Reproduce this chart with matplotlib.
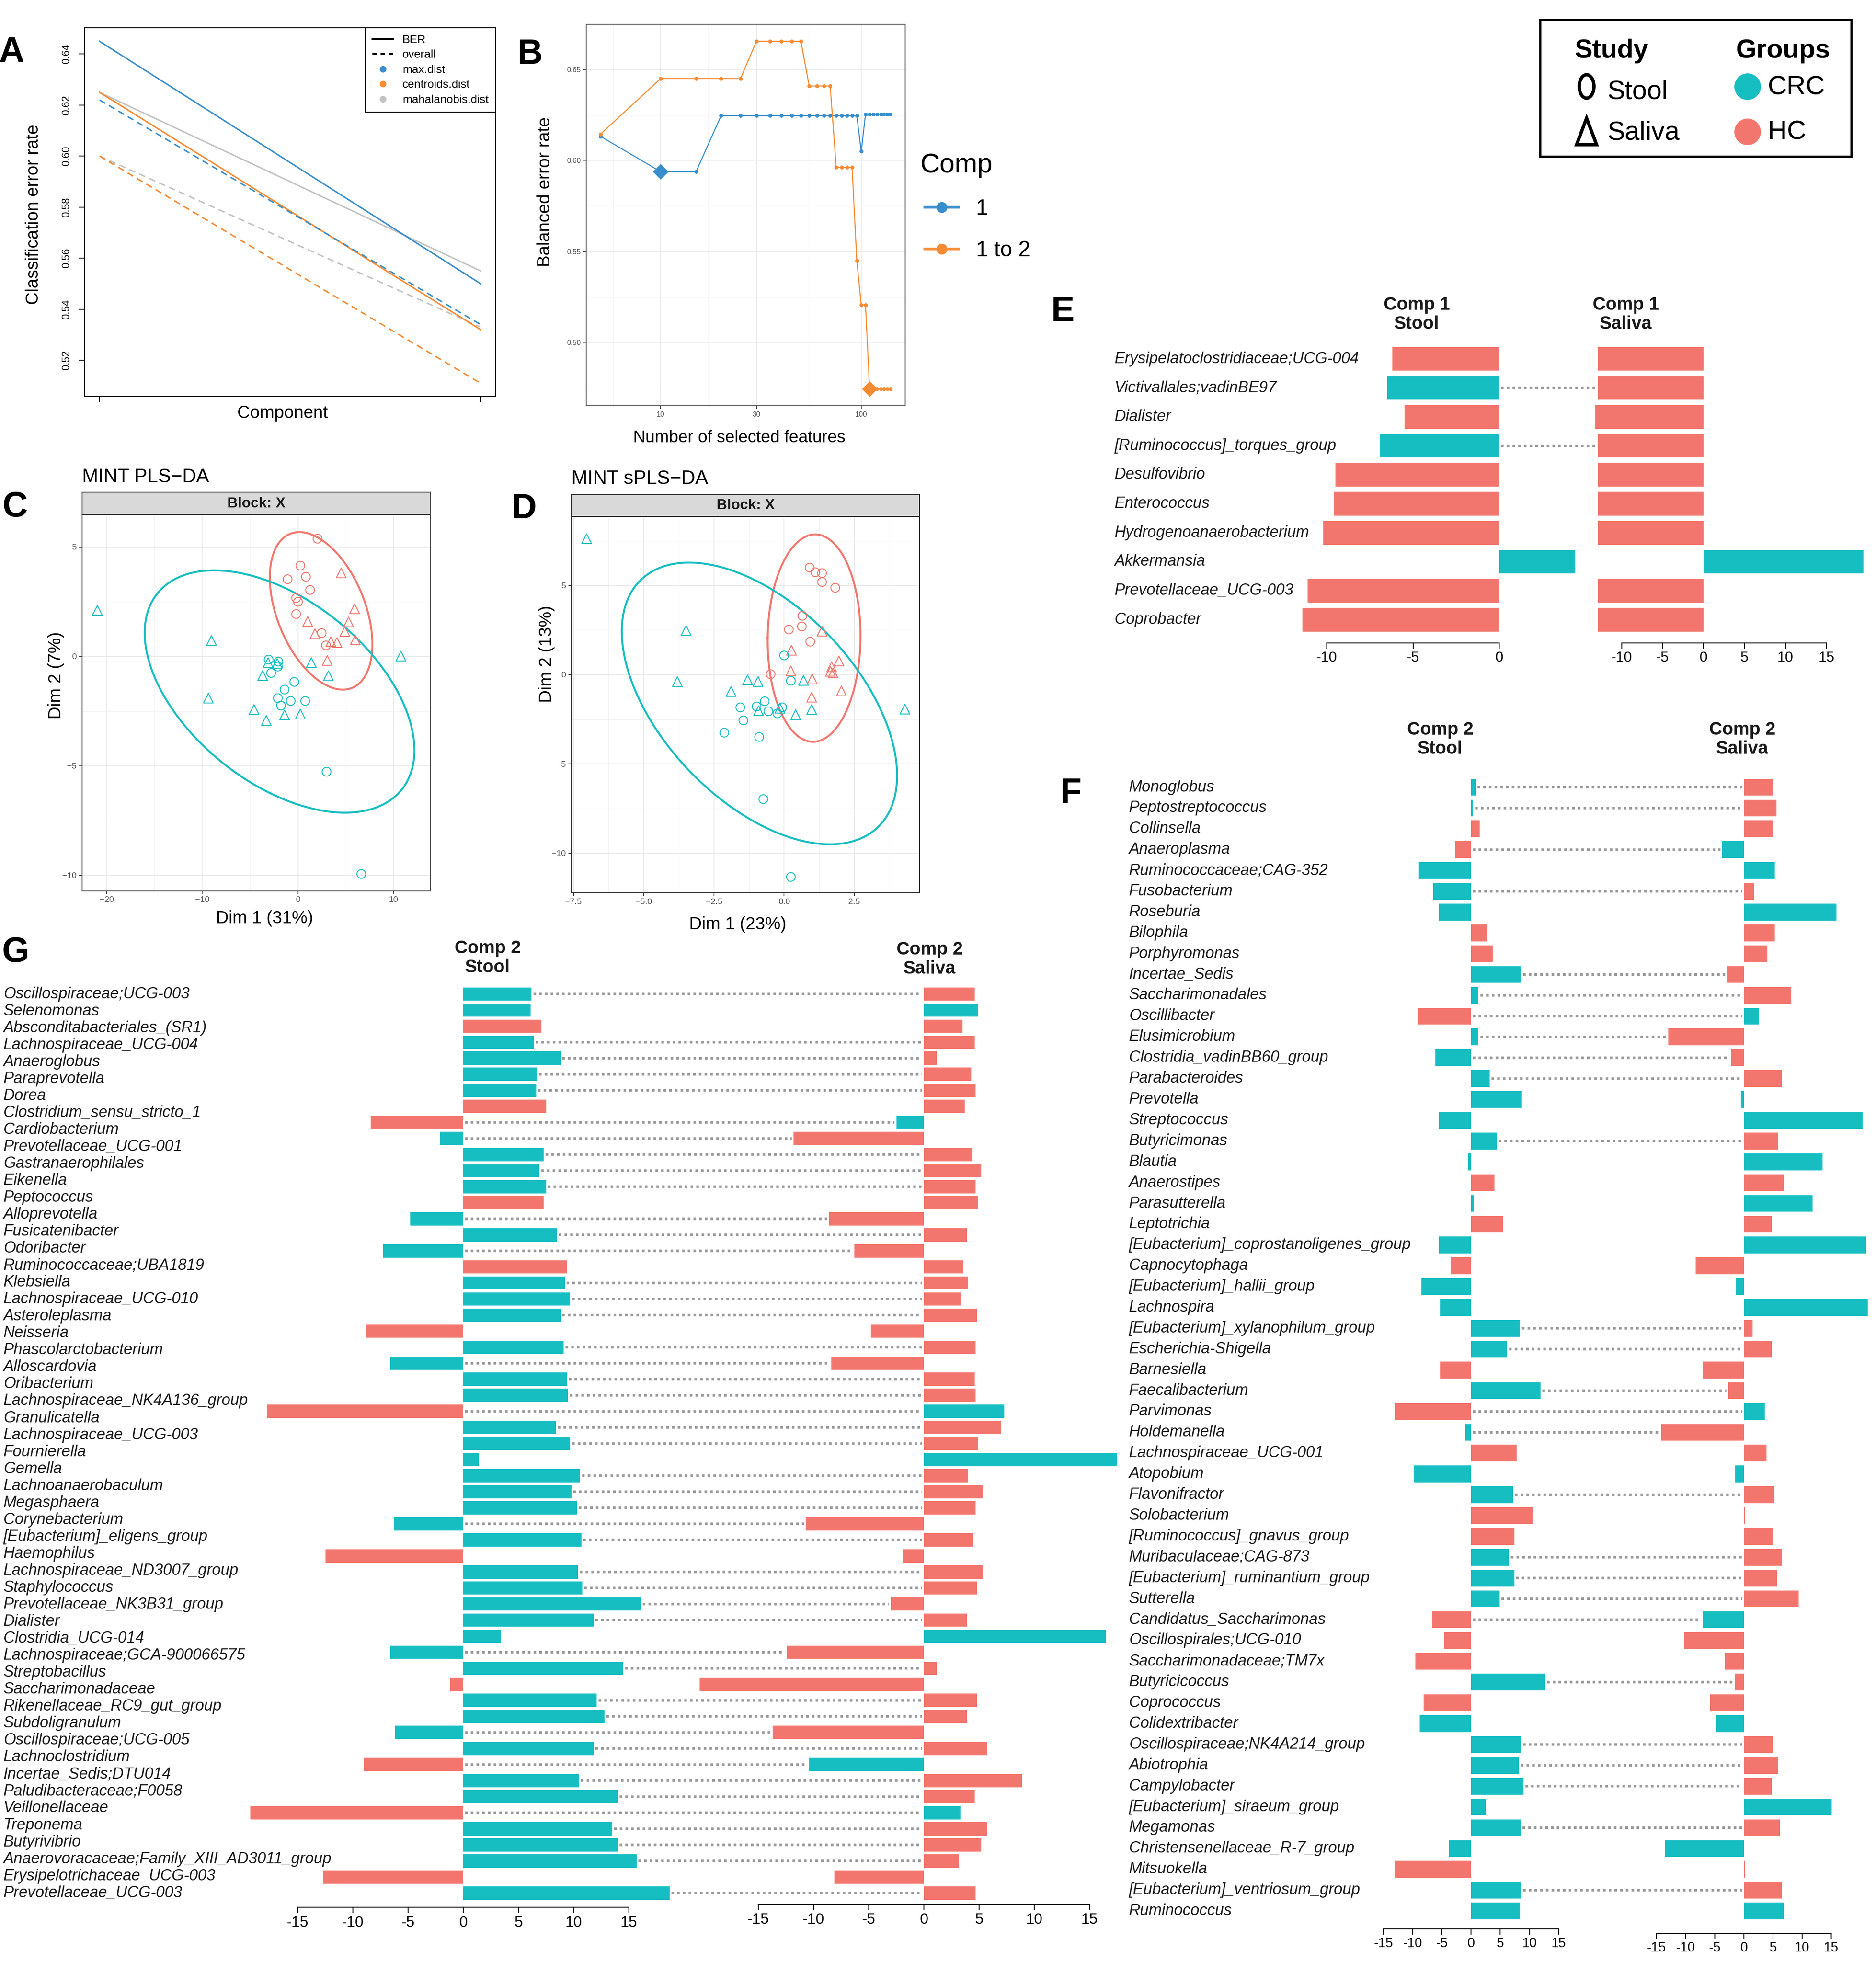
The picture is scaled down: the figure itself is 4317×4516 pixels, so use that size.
import numpy as np
import matplotlib
matplotlib.use("Agg")
import matplotlib.pyplot as plt
from matplotlib.lines import Line2D
from matplotlib.patches import ConnectionPatch, Ellipse, Polygon, Rectangle
from matplotlib.ticker import FormatStrFormatter, NullFormatter
from matplotlib.transforms import blended_transform_factory

W, H = 4317, 4516
plt.rcParams["font.family"] = ["Liberation Sans", "DejaVu Sans"]
plt.rcParams["axes.unicode_minus"] = False

CRC = "#16BEC2"
HC = "#F3766E"
MIXO = ["#388ECC", "#F68B33", "#C2C2C2"]
DOT = "#999999"

# ---------------- data ----------------
# A: classification error rate per component
a_comp = [1, 2]
a_max_ber = [0.645, 0.550]
a_max_overall = [0.622, 0.534]
a_cent_ber = [0.625, 0.532]
a_cent_overall = [0.600, 0.511]
a_maha_ber = [0.625, 0.555]
a_maha_overall = [0.600, 0.533]

# B: tuning curve
b_keepx = [5, 10, 15, 20, 25, 30, 35, 40, 45, 50, 55, 60, 65, 70,
           75, 80, 85, 90, 95, 100, 105, 110, 115, 120, 125, 130, 135, 140]
b_comp1 = [0.6133, 0.5938, 0.5938, 0.6246, 0.6246, 0.6246, 0.6246, 0.6246,
           0.6246, 0.6246, 0.6246, 0.6246, 0.6246, 0.6246, 0.6246, 0.6246,
           0.6246, 0.6246, 0.6246, 0.6050, 0.6253, 0.6253, 0.6253, 0.6253,
           0.6253, 0.6253, 0.6253, 0.6253]
b_comp12 = [0.6144, 0.6450, 0.6450, 0.6450, 0.6450, 0.6655, 0.6655, 0.6655,
            0.6655, 0.6655, 0.6409, 0.6409, 0.6409, 0.6409, 0.5962, 0.5962,
            0.5962, 0.5962, 0.5450, 0.5206, 0.5206, 0.4746, 0.4746, 0.4746,
            0.4746, 0.4746, 0.4746, 0.4746]
b_best1 = 10
b_best12 = 110

# C: MINT PLS-DA sample plot
c_hc_stool_x = [2.04, 0.25, 0.83, -1.08, 1.27, -0.19, 0.00, -0.19, 2.48, 2.93]
c_hc_stool_y = [5.37, 4.14, 3.63, 3.52, 3.03, 2.66, 2.49, 1.93, 1.06, 0.50]
c_hc_saliva_x = [4.52, 5.92, 1.02, 5.29, 4.90, 1.78, 3.44, 4.08, 5.99, 3.06]
c_hc_saliva_y = [3.81, 2.17, 1.59, 1.57, 1.13, 1.03, 0.67, 0.63, 0.75, -0.19]
c_crc_stool_x = [-3.06, -2.04, -2.10, -2.80, -0.38, -1.40, -2.10, -0.76, 0.76, -1.78, 2.99, 6.62]
c_crc_stool_y = [-0.15, -0.24, -0.47, -0.76, -1.17, -1.52, -1.91, -2.04, -2.04, -2.25, -5.27, -9.94]
c_crc_saliva_x = [-20.96, -9.04, 10.76, -3.12, -2.17, 1.40, -3.69, 3.18, -9.36, -4.59, -1.40, 0.25, -3.31]
c_crc_saliva_y = [2.10, 0.72, 0.01, -0.29, -0.33, -0.29, -0.88, -0.89, -1.91, -2.43, -2.68, -2.64, -2.93]

# D: MINT sPLS-DA sample plot
d_hc_stool_x = [0.91, 1.11, 1.35, 1.35, 1.82, 0.65, 0.63, 0.17, 0.93, -0.48]
d_hc_stool_y = [6.00, 5.74, 5.69, 5.19, 4.87, 3.30, 2.70, 2.53, 1.85, 0.03]
d_hc_saliva_x = [1.35, 0.26, 1.95, 0.24, 1.00, 1.69, 1.65, 1.74, 2.04, 0.98]
d_hc_saliva_y = [2.44, 1.37, 0.77, 0.21, -0.24, 0.44, 0.19, 0.10, -0.91, -1.26]
d_crc_stool_x = [0.00, 0.24, -0.69, -1.56, -0.98, -0.56, -0.07, -0.24, -1.45, -2.13, -0.89, -0.74, 0.24]
d_crc_stool_y = [1.08, -0.34, -1.49, -1.83, -1.78, -2.05, -1.83, -2.17, -2.56, -3.25, -3.49, -6.97, -11.33]
d_crc_saliva_x = [-7.03, -3.49, -3.80, -1.30, -0.93, -1.89, 0.69, -0.91, -0.15, 0.41, 0.98, 4.30]
d_crc_saliva_y = [7.62, 2.48, -0.39, -0.29, -0.38, -0.94, -0.32, -2.02, -1.88, -2.24, -1.95, -1.93]

# E: component 1 loadings
e_taxa = ["Erysipelatoclostridiaceae;UCG-004", "Victivallales;vadinBE97", "Dialister",
          "[Ruminococcus]_torques_group", "Desulfovibrio", "Enterococcus",
          "Hydrogenoanaerobacterium", "Akkermansia", "Prevotellaceae_UCG-003", "Coprobacter"]
e_stool = [-6.2, -6.5, -5.5, -6.9, -9.5, -9.6, -10.2, 4.4, -11.1, -11.4]
e_stool_grp = ["HC", "CRC", "HC", "CRC", "HC", "HC", "HC", "CRC", "HC", "HC"]
e_saliva = [-12.9, -12.9, -13.2, -12.9, -12.9, -12.9, -12.9, 19.5, -12.9, -12.9]
e_saliva_grp = ["HC", "HC", "HC", "HC", "HC", "HC", "HC", "CRC", "HC", "HC"]

# F: component 2 loadings
f_taxa = ["Monoglobus", "Peptostreptococcus", "Collinsella", "Anaeroplasma",
          "Ruminococcaceae;CAG-352", "Fusobacterium", "Roseburia", "Bilophila",
          "Porphyromonas", "Incertae_Sedis", "Saccharimonadales", "Oscillibacter",
          "Elusimicrobium", "Clostridia_vadinBB60_group", "Parabacteroides", "Prevotella",
          "Streptococcus", "Butyricimonas", "Blautia", "Anaerostipes", "Parasutterella",
          "Leptotrichia", "[Eubacterium]_coprostanoligenes_group", "Capnocytophaga",
          "[Eubacterium]_hallii_group", "Lachnospira", "[Eubacterium]_xylanophilum_group",
          "Escherichia-Shigella", "Barnesiella", "Faecalibacterium", "Parvimonas",
          "Holdemanella", "Lachnospiraceae_UCG-001", "Atopobium", "Flavonifractor",
          "Solobacterium", "[Ruminococcus]_gnavus_group", "Muribaculaceae;CAG-873",
          "[Eubacterium]_ruminantium_group", "Sutterella", "Candidatus_Saccharimonas",
          "Oscillospirales;UCG-010", "Saccharimonadaceae;TM7x", "Butyricicoccus",
          "Coprococcus", "Colidextribacter", "Oscillospiraceae;NK4A214_group",
          "Abiotrophia", "Campylobacter", "[Eubacterium]_siraeum_group", "Megamonas",
          "Christensenellaceae_R-7_group", "Mitsuokella", "[Eubacterium]_ventriosum_group",
          "Ruminococcus"]
f_stool = [0.8, 0.4, 1.5, -2.7, -8.9, -6.5, -5.5, 2.8, 3.7, 8.6,
           1.3, -9.0, 1.3, -6.1, 3.2, 8.7, -5.5, 4.4, -0.5, 4.0,
           0.5, 5.5, -5.5, -3.5, -8.5, -5.3, 8.4, 6.2, -5.3, 11.9,
           -13.0, -1.0, 7.8, -9.8, 7.2, 10.6, 7.4, 6.5, 7.4, 4.9,
           -6.7, -4.6, -9.5, 12.7, -8.1, -8.8, 8.6, 8.2, 9.0, 2.5,
           8.5, -3.8, -13.1, 8.6, 8.4]
f_stool_grp = ["CRC", "CRC", "HC", "HC", "CRC", "CRC", "CRC", "HC", "HC", "CRC",
               "CRC", "HC", "CRC", "CRC", "CRC", "CRC", "CRC", "CRC", "CRC", "HC",
               "CRC", "HC", "CRC", "HC", "CRC", "CRC", "CRC", "CRC", "HC", "CRC",
               "HC", "CRC", "HC", "CRC", "CRC", "HC", "HC", "CRC", "CRC", "CRC",
               "HC", "HC", "HC", "CRC", "HC", "CRC", "CRC", "CRC", "CRC", "CRC",
               "CRC", "CRC", "HC", "CRC", "CRC"]
f_saliva = [5.0, 5.6, 5.0, -3.7, 5.3, 1.7, 15.9, 5.3, 4.0, -2.9,
            8.1, 2.6, -13.0, -2.2, 6.5, -0.5, 20.4, 5.9, 13.5, 6.9,
            11.8, 4.8, 21.0, -8.3, -1.4, 21.3, 1.5, 4.8, -7.1, -2.7,
            3.6, -14.2, 3.9, -1.5, 5.2, 0.15, 5.1, 6.6, 5.7, 9.4,
            -7.1, -10.3, -3.3, -1.6, -5.8, -4.8, 4.9, 5.8, 4.8, 15.1,
            6.2, -13.6, 0.15, 6.5, 6.9]
f_saliva_grp = ["HC", "HC", "HC", "CRC", "CRC", "HC", "CRC", "HC", "HC", "HC",
                "HC", "CRC", "HC", "HC", "HC", "CRC", "CRC", "HC", "CRC", "HC",
                "CRC", "HC", "CRC", "HC", "CRC", "CRC", "HC", "HC", "HC", "HC",
                "CRC", "HC", "HC", "CRC", "HC", "HC", "HC", "HC", "HC", "HC",
                "CRC", "HC", "HC", "HC", "HC", "CRC", "HC", "HC", "HC", "CRC",
                "HC", "CRC", "HC", "HC", "CRC"]

# G: component 2 loadings (second study)
g_taxa = ["Oscillospiraceae;UCG-003", "Selenomonas", "Absconditabacteriales_(SR1)",
          "Lachnospiraceae_UCG-004", "Anaeroglobus", "Paraprevotella", "Dorea",
          "Clostridium_sensu_stricto_1", "Cardiobacterium", "Prevotellaceae_UCG-001",
          "Gastranaerophilales", "Eikenella", "Peptococcus", "Alloprevotella",
          "Fusicatenibacter", "Odoribacter", "Ruminococcaceae;UBA1819", "Klebsiella",
          "Lachnospiraceae_UCG-010", "Asteroleplasma", "Neisseria", "Phascolarctobacterium",
          "Alloscardovia", "Oribacterium", "Lachnospiraceae_NK4A136_group", "Granulicatella",
          "Lachnospiraceae_UCG-003", "Fournierella", "Gemella", "Lachnoanaerobaculum",
          "Megasphaera", "Corynebacterium", "[Eubacterium]_eligens_group", "Haemophilus",
          "Lachnospiraceae_ND3007_group", "Staphylococcus", "Prevotellaceae_NK3B31_group",
          "Dialister", "Clostridia_UCG-014", "Lachnospiraceae;GCA-900066575",
          "Streptobacillus", "Saccharimonadaceae", "Rikenellaceae_RC9_gut_group",
          "Subdoligranulum", "Oscillospiraceae;UCG-005", "Lachnoclostridium",
          "Incertae_Sedis;DTU014", "Paludibacteraceae;F0058", "Veillonellaceae",
          "Treponema", "Butyrivibrio", "Anaerovoracaceae;Family_XIII_AD3011_group",
          "Erysipelotrichaceae_UCG-003", "Prevotellaceae_UCG-003"]
g_stool = [6.2, 6.1, 7.1, 6.4, 8.8, 6.7, 6.6, 7.5, -8.4, -2.1,
           7.3, 6.9, 7.5, 7.3, -4.8, 8.5, -7.3, 9.4, 9.2, 9.7,
           8.8, -8.8, 9.1, -6.6, 9.4, 9.5, -17.8, 8.4, 9.7, 1.4,
           10.6, 9.8, 10.3, -6.3, 10.7, -12.5, 10.4, 10.8, 16.1, 11.8,
           3.4, -6.6, 14.5, -1.2, 12.1, 12.8, -6.2, 11.8, -9.0, 10.5,
           14.0, -19.3, 13.5, 14.0, 15.7, -12.7, 18.7]
g_stool_grp = ["CRC", "CRC", "HC", "CRC", "CRC", "CRC", "CRC", "HC", "HC", "CRC",
               "CRC", "CRC", "CRC", "HC", "CRC", "CRC", "CRC", "HC", "CRC", "CRC",
               "CRC", "HC", "CRC", "CRC", "CRC", "CRC", "HC", "CRC", "CRC", "CRC",
               "CRC", "CRC", "CRC", "CRC", "CRC", "HC", "CRC", "CRC", "CRC", "CRC",
               "CRC", "CRC", "CRC", "HC", "CRC", "CRC", "CRC", "CRC", "HC", "CRC",
               "CRC", "HC", "CRC", "CRC", "CRC", "HC", "CRC"]
g_saliva = [4.6, 4.9, 3.5, 4.6, 1.2, 4.3, 4.7, 3.7, -2.5, -11.8,
            4.4, 5.2, 4.7, 4.9, -8.6, 3.9, -6.3, 3.6, 4.0, 3.4,
            4.8, -4.8, 4.7, -8.4, 4.6, 4.7, 7.3, 7.0, 4.9, 17.5,
            4.0, 5.3, 4.7, -10.7, 4.5, -1.9, 5.3, 4.8, -3.0, 3.9,
            16.5, -12.4, 1.2, -20.3, 4.8, 3.9, -13.7, 5.7, -10.4, 8.9,
            4.6, 3.3, 5.7, 5.2, 3.2, -8.1, 4.7]
g_saliva_grp = ["HC", "CRC", "HC", "HC", "HC", "HC", "HC", "HC", "CRC", "HC",
                "HC", "HC", "HC", "HC", "HC", "HC", "HC", "HC", "HC", "HC",
                "HC", "HC", "HC", "HC", "HC", "HC", "CRC", "HC", "HC", "CRC",
                "HC", "HC", "HC", "HC", "HC", "HC", "HC", "HC", "HC", "HC",
                "CRC", "HC", "HC", "HC", "HC", "HC", "HC", "HC", "CRC", "HC",
                "HC", "CRC", "HC", "HC", "HC", "HC", "HC"]

# ---------------- helpers ----------------
fig = plt.figure(figsize=(W / 100, H / 100), dpi=100)


def px_axes(x0, y0, x1, y1, **kw):
    return fig.add_axes([x0 / W, 1 - y1 / H, (x1 - x0) / W, (y1 - y0) / H], **kw)


def grp_col(g):
    return CRC if g == "CRC" else HC


def conf_ellipse(x, y, level=0.95, n=300):
    pts = np.column_stack([x, y])
    mu = pts.mean(axis=0)
    vals, vecs = np.linalg.eigh(np.cov(pts.T))
    r = np.sqrt(-2 * np.log(1 - level))
    t = np.linspace(0, 2 * np.pi, n)
    e = vecs @ (np.sqrt(vals)[:, None] * np.vstack([np.cos(t), np.sin(t)])) * r
    return mu[0] + e[0], mu[1] + e[1]


def gg_style(ax, size):
    for s in ax.spines.values():
        s.set_color("#333333")
        s.set_linewidth(1.4)
    ax.tick_params(which="major", colors="#333333", labelcolor="#4D4D4D",
                   length=5, width=1.2, labelsize=size, pad=4)
    ax.tick_params(which="minor", length=0)
    ax.grid(True, which="major", color="#EBEBEB", lw=1.6)
    ax.grid(True, which="minor", color="#F2F2F2", lw=0.9)
    ax.set_axisbelow(True)


# ---------------- A ----------------
ax = px_axes(195, 64, 1140, 912)
ax.plot(a_comp, a_maha_ber, color=MIXO[2], lw=2.4)
ax.plot(a_comp, a_maha_overall, color=MIXO[2], lw=2.4, ls=(0, (4.5, 3)))
ax.plot(a_comp, a_cent_ber, color=MIXO[1], lw=2.4)
ax.plot(a_comp, a_cent_overall, color=MIXO[1], lw=2.4, ls=(0, (4.5, 3)))
ax.plot(a_comp, a_max_ber, color=MIXO[0], lw=2.4)
ax.plot(a_comp, a_max_overall, color=MIXO[0], lw=2.4, ls=(0, (4.5, 3)))
ax.set_xlim(0.961, 2.039)
ax.set_ylim(0.5059, 0.6503)
ax.set_xticks(a_comp)
ax.set_xticklabels([])
a_yt = [0.52, 0.54, 0.56, 0.58, 0.60, 0.62, 0.64]
ax.set_yticks(a_yt)
ax.set_yticklabels([f"{v:.2f}" for v in a_yt], rotation=90, va="center")
ax.tick_params(length=10, width=1.5, labelsize=17, pad=12)
for s in ax.spines.values():
    s.set_linewidth(1.6)
handles = [Line2D([], [], color="black", lw=3),
           Line2D([], [], color="black", lw=3, ls=(0, (2.5, 2))),
           Line2D([], [], ls="none", marker="o", ms=10, color=MIXO[0]),
           Line2D([], [], ls="none", marker="o", ms=10, color=MIXO[1]),
           Line2D([], [], ls="none", marker="o", ms=10, color=MIXO[2])]
leg = ax.legend(handles, ["BER", "overall", "max.dist", "centroids.dist", "mahalanobis.dist"],
                loc="upper right", bbox_to_anchor=(1, 1), borderaxespad=0, fancybox=False,
                edgecolor="black", framealpha=1, fontsize=19, handlelength=1.8,
                labelspacing=0.4, borderpad=0.6)
leg.get_frame().set_linewidth(1.6)

# ---------------- B ----------------
ax = px_axes(1349, 56, 2083, 934)
ax.set_xscale("log")
ax.plot(b_keepx, b_comp1, color=MIXO[0], lw=1.8, marker="o", ms=5.5)
ax.plot(b_keepx, b_comp12, color=MIXO[1], lw=1.8, marker="o", ms=5.5)
i1 = b_keepx.index(b_best1)
i12 = b_keepx.index(b_best12)
ax.plot([b_keepx[i1]], [b_comp1[i1]], ls="none", marker="D", ms=17, color=MIXO[0])
ax.plot([b_keepx[i12]], [b_comp12[i12]], ls="none", marker="D", ms=17, color=MIXO[1])
ax.set_xlim(4.25, 165.6)
ax.set_ylim(0.4652, 0.6748)
ax.set_xticks([10, 30, 100])
ax.set_xticklabels(["10", "30", "100"])
ax.set_xticks([5.8, 17.3, 54.8], minor=True)
ax.xaxis.set_minor_formatter(NullFormatter())
ax.set_yticks([0.50, 0.55, 0.60, 0.65])
ax.set_yticks([0.475, 0.525, 0.575, 0.625], minor=True)
ax.yaxis.set_major_formatter(FormatStrFormatter("%.2f"))
gg_style(ax, 12)
ax.legend([Line2D([], [], color=MIXO[0], lw=4.5, marker="o", ms=17),
           Line2D([], [], color=MIXO[1], lw=4.5, marker="o", ms=17)],
          ["1", "1 to 2"], loc="upper left",
          bbox_to_anchor=(2128 / W, 1 - 458 / H), bbox_transform=fig.transFigure,
          frameon=False, fontsize=36, handlelength=1.55, borderaxespad=0,
          handletextpad=0.8, labelspacing=1.0, borderpad=0)


# ---------------- C / D ----------------
def indiv_panel(x0, x1, strip_top, top, bottom, xlim, ylim, xmaj, xmin, ymaj, ymin,
                xlabels, hc_st, hc_sa, crc_st, crc_sa):
    st = px_axes(x0, strip_top, x1, top)
    st.set_facecolor("#D9D9D9")
    st.set_xticks([])
    st.set_yticks([])
    for s in st.spines.values():
        s.set_color("#333333")
        s.set_linewidth(1.4)
    st.text(0.5, 0.5, "Block: X", ha="center", va="center", fontsize=24,
            fontweight="bold", color="#1A1A1A", transform=st.transAxes)
    ax = px_axes(x0, top, x1, bottom)
    ax.set_xlim(xlim)
    ax.set_ylim(ylim)
    ax.set_xticks(xmaj)
    ax.set_xticklabels(xlabels)
    ax.set_xticks(xmin, minor=True)
    ax.set_yticks(ymaj)
    ax.set_yticklabels([str(v).replace("-", "\u2212") for v in ymaj])
    ax.set_yticks(ymin, minor=True)
    gg_style(ax, 14)
    for xs, ys, col in [(hc_st[0] + hc_sa[0], hc_st[1] + hc_sa[1], HC),
                        (crc_st[0] + crc_sa[0], crc_st[1] + crc_sa[1], CRC)]:
        ex, ey = conf_ellipse(xs, ys)
        ax.plot(ex, ey, color=col, lw=3.2)
    for (xs, ys), col, mk in [(hc_st, HC, "o"), (hc_sa, HC, "^"),
                              (crc_st, CRC, "o"), (crc_sa, CRC, "^")]:
        ax.scatter(xs, ys, s=210 if mk == "o" else 260, marker=mk,
                   facecolors="none", edgecolors=col, linewidths=1.6, zorder=3)
    return ax


indiv_panel(189, 990, 1133, 1185, 2051, (-22.55, 13.82), (-10.72, 6.46),
            [-20, -10, 0, 10], [-15, -5, 5], [-10, -5, 0, 5], [-7.5, -2.5, 2.5],
            ["\u221220", "\u221210", "0", "10"],
            (c_hc_stool_x, c_hc_stool_y), (c_hc_saliva_x, c_hc_saliva_y),
            (c_crc_stool_x, c_crc_stool_y), (c_crc_saliva_x, c_crc_saliva_y))
indiv_panel(1315, 2116, 1138, 1189, 2055, (-7.57, 4.82), (-12.22, 8.86),
            [-7.5, -5.0, -2.5, 0.0, 2.5], [-6.25, -3.75, -1.25, 1.25, 3.75],
            [-10, -5, 0, 5], [-7.5, -2.5, 2.5, 7.5],
            ["\u22127.5", "\u22125.0", "\u22122.5", "0.0", "2.5"],
            (d_hc_stool_x, d_hc_stool_y), (d_hc_saliva_x, d_hc_saliva_y),
            (d_crc_stool_x, d_crc_stool_y), (d_crc_saliva_x, d_crc_saliva_y))


# ---------------- E / F / G ----------------
def bar_axes(zero, ppu, lim, ticks, y_first, step, spine_y, tick_size):
    ax = px_axes(zero + lim[0] * ppu, y_first - 0.75 * step, zero + lim[1] * ppu, spine_y)
    ax.set_xlim(lim)
    ax.set_ylim((spine_y - y_first) / step, -0.75)
    ax.patch.set_visible(False)
    for s in ("left", "right", "top"):
        ax.spines[s].set_visible(False)
    ax.spines["bottom"].set_bounds(ticks[0], ticks[-1])
    ax.spines["bottom"].set_linewidth(1.6)
    ax.set_yticks([])
    ax.set_xticks(ticks)
    ax.set_xticklabels([str(t) for t in ticks])
    ax.tick_params(axis="x", length=9, width=1.6, pad=5, labelsize=tick_size)
    return ax


def bar_pair(st_v, st_g, sa_v, sa_g, st_ax, sa_ax, bar_h):
    rows = np.arange(len(st_v))
    st_ax.barh(rows, st_v, height=bar_h, color=[grp_col(g) for g in st_g], lw=0)
    sa_ax.barh(rows, sa_v, height=bar_h, color=[grp_col(g) for g in sa_g], lw=0)
    for i, (a, ga, b, gb) in enumerate(zip(st_v, st_g, sa_v, sa_g)):
        if ga != gb:
            con = ConnectionPatch(xyA=(max(a, 0), i), coordsA=st_ax.transData,
                                  xyB=(min(b, 0), i), coordsB=sa_ax.transData,
                                  color=DOT, lw=4.3, linestyle=(0, (1.0, 1.2)),
                                  capstyle="butt", shrinkA=3, shrinkB=3)
            fig.add_artist(con)


def row_labels(ax, x_px, rows, names, size):
    tr = blended_transform_factory(fig.transFigure, ax.transData)
    for r, name in zip(rows, names):
        ax.text(x_px / W, r, name, transform=tr, ha="left", va="center",
                fontsize=size, style="italic", color="#1A1A1A")


# E
e_st = bar_axes(3450, 39.7, (-12, 5), [-10, -5, 0], 826, 66.7, 1480, 24)
e_sa = bar_axes(3920, 18.85, (-13.5, 20), [-10, -5, 0, 5, 10, 15], 826, 66.7, 1480, 24)
bar_pair(e_stool, e_stool_grp, e_saliva, e_saliva_grp, e_st, e_sa, 0.82)
row_labels(e_st, 2565, np.arange(len(e_taxa)), e_taxa, 26)

# F
f_st = bar_axes(3385, 13.45, (-15.5, 15.5), [-15, -10, -5, 0, 5, 10, 15], 1812, 47.9, 4440, 22)
f_sa = bar_axes(4013, 13.4, (-15.5, 22), [-15, -10, -5, 0, 5, 10, 15], 1812, 47.9, 4450, 22)
bar_pair(f_stool, f_stool_grp, f_saliva, f_saliva_grp, f_st, f_sa, 0.81)
row_labels(f_st, 2598, np.arange(len(f_taxa)), f_taxa, 26)

# G
g_st = bar_axes(1066, 25.4, (-20, 19.5), [-15, -10, -5, 0, 5, 10, 15], 2288, 36.95, 4390, 25)
g_sa = bar_axes(2126, 25.4, (-21, 18), [-15, -10, -5, 0, 5, 10, 15], 2288, 36.95, 4383, 25)
bar_pair(g_stool, g_stool_grp, g_saliva, g_saliva_grp, g_st, g_sa, 0.83)
row_labels(g_st, 8, np.linspace(0, len(g_stool) - 1, len(g_taxa)), g_taxa, 26)

# ---------------- free text overlay ----------------
ov = fig.add_axes([0, 0, 1, 1], zorder=10)
ov.set_xlim(0, W)
ov.set_ylim(H, 0)
ov.axis("off")
ov.patch.set_alpha(0)

for letter, x, y in [("A", 27, 121), ("B", 1220, 126), ("C", 35, 1168), ("D", 1206, 1172),
                     ("E", 2446, 718), ("F", 2464, 1827), ("G", 36, 2193)]:
    ov.text(x, y, letter, ha="center", va="center", fontsize=58, fontweight="bold")

ov.text(77, 494, "Classification error rate", rotation=90, ha="center", va="center", fontsize=29)
ov.text(650, 951, "Component", ha="center", va="center", fontsize=29)
ov.text(1254, 442, "Balanced error rate", rotation=90, ha="center", va="center", fontsize=29)
ov.text(1701, 1008, "Number of selected features", ha="center", va="center", fontsize=28)
ov.text(2118, 381, "Comp", ha="left", va="center", fontsize=45)

ov.text(189, 1099, "MINT PLS\u2212DA", ha="left", va="center", fontsize=32)
ov.text(1315, 1103, "MINT sPLS\u2212DA", ha="left", va="center", fontsize=32)
ov.text(609, 2114, "Dim 1 (31%)", ha="center", va="center", fontsize=29)
ov.text(129, 1555, "Dim 2 (7%)", rotation=90, ha="center", va="center", fontsize=29)
ov.text(1698, 2128, "Dim 1 (23%)", ha="center", va="center", fontsize=29)
ov.text(1258, 1505, "Dim 2 (13%)", rotation=90, ha="center", va="center", fontsize=29)

for txt, x, y in [("Comp 1\nStool", 3260, 724), ("Comp 1\nSaliva", 3741, 724),
                  ("Comp 2\nStool", 3314, 1702), ("Comp 2\nSaliva", 4009, 1702),
                  ("Comp 2\nStool", 1122, 2205), ("Comp 2\nSaliva", 2139, 2208)]:
    ov.text(x, y, txt, ha="center", va="center", fontsize=30, fontweight="bold",
            linespacing=1.1, color="#1A1A1A")

# legend box (study / group)
ov.add_patch(Rectangle((3544, 45), 716, 315, fill=False, lw=3.5, ec="black"))
ov.text(3708, 117, "Study", ha="center", va="center", fontsize=44, fontweight="bold")
ov.text(4103, 117, "Groups", ha="center", va="center", fontsize=44, fontweight="bold")
ov.add_patch(Ellipse((3651, 199), 34, 54, fill=False, lw=5.5, ec="black"))
ov.add_patch(Polygon([(3628, 333), (3651, 272), (3674, 333)], closed=True, fill=False,
                     lw=5.5, ec="black", joinstyle="miter"))
ov.text(3698, 212, "Stool", ha="left", va="center", fontsize=44)
ov.text(3698, 306, "Saliva", ha="left", va="center", fontsize=44)
ov.plot([4021], [199], ls="none", marker="o", ms=43, color=CRC)
ov.plot([4021], [303], ls="none", marker="o", ms=43, color=HC)
ov.text(4068, 202, "CRC", ha="left", va="center", fontsize=44)
ov.text(4068, 305, "HC", ha="left", va="center", fontsize=44)

fig.savefig("out.png", dpi=100)
